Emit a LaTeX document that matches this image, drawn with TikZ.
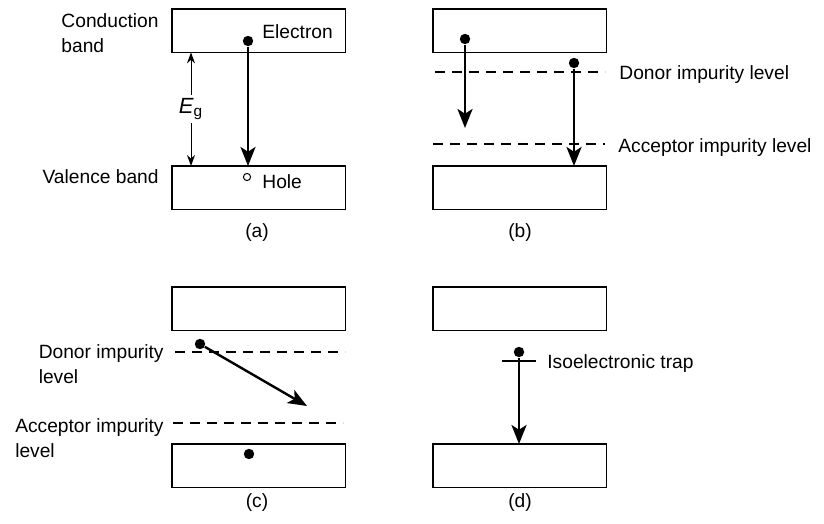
\documentclass[tikz,border=0pt]{standalone}
\usepackage{fontspec}
\setmainfont{Liberation Sans}
\usetikzlibrary{arrows.meta, positioning, calc}

\begin{document}
\begin{tikzpicture}[x=0.5pt, y=-0.5pt,
				band/.style={rectangle, draw, line width=0.7pt, minimum width=86.7pt, minimum height=21.7pt, inner sep=0pt, outer sep=0pt, anchor=north west},
				dot/.style={circle, fill, inner sep=0pt, minimum size=5.2pt},
				hole/.style={circle, draw, line width=0.5pt, inner sep=0pt, minimum size=3.6pt},
				carrier/.style={-{Stealth[length=9.5pt, width=7.5pt, inset=2.4pt]}, line width=1.4pt},
				gap/.style={{Stealth[length=5.5pt, width=4pt]}-{Stealth[length=5.5pt, width=4pt]}, line width=0.5pt},
				level/.style={line width=0.6pt, dash pattern=on 5pt off 3.5pt},
				lbl/.style={font=\fontsize{9.6}{12.5}\selectfont, inner sep=0pt},
				tag/.style={lbl, anchor=base}
			]
			\useasboundingbox (0,0) rectangle (824,524);

			% 1. Bands (conduction on top, valence below) for the four cases
			\node[band] (cba) at (172,9) {};
			\node[band] (vba) at (172,166) {};
			\node[band] (cbb) at (433,9) {};
			\node[band] (vbb) at (433,166) {};
			\node[band] (cbc) at (172,287) {};
			\node[band] (vbc) at (172,444) {};
			\node[band] (cbd) at (433,287) {};
			\node[band] (vbd) at (433,444) {};

			% 2. Case (a): band-to-band
			\node[lbl, align=left, anchor=base east] (conda) at (159,53) {Conduction\\band};
			\node[lbl, anchor=base east] (vala) at (159,183) {Valence band};
			\node[dot] (ea) at (248,41) {};
			\node[lbl, anchor=base west] (elea) at (262,39) {Electron};
			\node[hole] (ha) at (247,177) {};
			\node[lbl, anchor=base west] (holea) at (262,188) {Hole};
			\coordinate (ga) at (191,0);
			\draw[gap] (ga |- cba.south) -- node[fill=white, font=\fontsize{11}{13}\selectfont, inner sep=1.5pt] (eg) {\textit{E}\textsubscript{g}} (ga |- vba.north);
			\draw[carrier] (ea) -- (ea |- vba.north);
			\node[tag] (capa) at (257,237) {(a)};

			% 3. Case (b): via donor and acceptor levels
			\draw[level] (435,72) -- (605,72);
			\draw[level] (433,144) -- (605,144);
			\node[lbl, anchor=base west] (donb) at (619,80) {Donor impurity level};
			\node[lbl, anchor=base west] (accb) at (618,152) {Acceptor impurity level};
			\node[dot] (eb1) at (465,39) {};
			\node[dot] (eb2) at (574,63) {};
			\coordinate (eb1end) at (465,128);
			\draw[carrier] (eb1) -- (eb1end);
			\draw[carrier] (eb2) -- (eb2 |- vbb.north);
			\node[tag] (capb) at (520,237) {(b)};

			% 4. Case (c): donor to acceptor pair
			\draw[level] (175,352) -- (345,352);
			\draw[level] (173,423) -- (343,423);
			\node[lbl, align=left, anchor=base east] (donc) at (164,383) {Donor impurity\\level};
			\node[lbl, align=left, anchor=base east] (accc) at (164,457) {Acceptor impurity\\level};
			\node[dot] (ec1) at (200,344) {};
			\node[dot] (ec2) at (249,454) {};
			\coordinate (ec1end) at (307,406);
			\draw[carrier, line width=1.2pt] (ec1) -- (ec1end);
			\node[tag] (capc) at (257,507) {(c)};

			% 5. Case (d): isoelectronic trap
			\draw[line width=1pt] (502,361) -- (536,361);
			\node[dot] (ed) at (519,352) {};
			\node[lbl, anchor=base west] (trapd) at (547,368) {Isoelectronic trap};
			\draw[carrier] (ed) -- (ed |- vbd.north);
			\node[tag] (capd) at (520,507) {(d)};

		\end{tikzpicture}
\end{document}
